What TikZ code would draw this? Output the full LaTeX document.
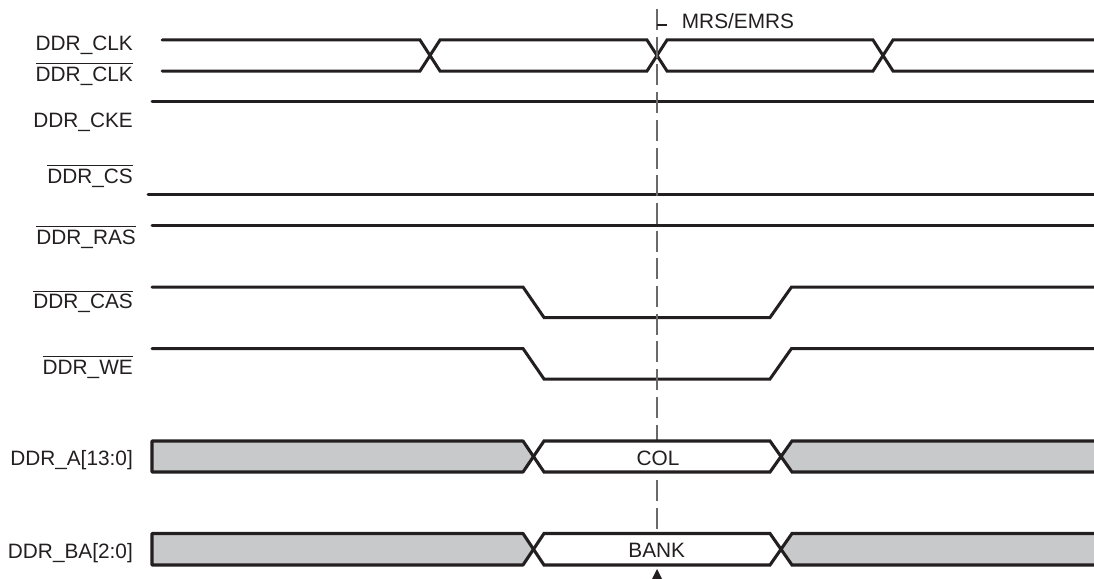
\documentclass[tikz,border=0pt]{standalone}
\usepackage{fontspec}
\setmainfont{Liberation Sans}
\definecolor{ink}{RGB}{35,31,32}
\definecolor{busgray}{RGB}{200,201,203}
\definecolor{markgray}{RGB}{105,105,105}
\newcommand\ovbar[1]{\leavevmode\vbox{\hrule height 0.9pt\kern 2.6pt\hbox{#1}}}
\tikzset{
  sig/.style={draw=ink, line width=3.0pt, line join=miter, line cap=round},
  busline/.style={draw=ink, line width=3.1pt, line join=miter},
  busfill/.style={fill=busgray},
  lbl/.style={inner sep=0pt, text=ink, font=\fontsize{20.8}{25}\selectfont, anchor=base east},
  marker/.style={draw=markgray, line width=1.8pt, dash pattern=on 21pt off 6.7pt},
  tickmark/.style={draw=ink, line width=1.2pt},
}
\begin{document}
\begin{tikzpicture}[x=1pt,y=-1pt]
\useasboundingbox (0,0) rectangle (1094,578);
\clip (0,0) rectangle (1094,578);

% labels
\node[lbl] (lclk)  at (133,50.5)  {DDR\_CLK};
\node[lbl] (lclkn) at (133,81.5)  {\ovbar{DDR\_CLK}};
\node[lbl] (lcke)  at (133,127.3) {DDR\_CKE};
\node[lbl] (lcs)   at (133,183.5) {\ovbar{DDR\_CS}};
\node[lbl] (lras)  at (136,244)   {\ovbar{DDR\_RAS}};
\node[lbl] (lcas)  at (133,308.7) {\ovbar{DDR\_CAS}};
\node[lbl] (lwe)   at (133,374)   {\ovbar{DDR\_WE}};
\node[lbl] (la)    at (133,465.5) {DDR\_A[13:0]};
\node[lbl] (lba)   at (133,558)   {DDR\_BA[2:0]};

% clock pair
\draw[sig] (162,40) -- (420,40) -- (440,71) -- (647,71) -- (667,40) -- (873,40) -- (893,71) -- (1100,71);
\draw[sig] (162,71) -- (420,71) -- (440,40) -- (647,40) -- (667,71) -- (873,71) -- (893,40) -- (1100,40);

% static lines
\draw[sig] (152,101) -- (1100,101);
\draw[sig] (148,194) -- (1100,194);
\draw[sig] (152,225) -- (1100,225);

% CAS / WE
\draw[sig] (152,287) -- (523,287) -- (544,317.5) -- (770,317.5) -- (791.5,287) -- (1100,287);
\draw[sig] (152,348.5) -- (523,348.5) -- (544,379) -- (770,379) -- (791.5,348.5) -- (1100,348.5);

% MRS/EMRS marker
\coordinate (mtop) at (657,9);
\coordinate (mbot) at (657,560);
\coordinate (tickL) at (657,25);
\coordinate (tickR) at (667,25);
\draw[marker] (mtop) -- (mbot);
\draw[tickmark] (tickL) -- (tickR);
\node[lbl, anchor=base west] (mrs) at (681.7,28.3) {MRS/EMRS};

% DDR_A bus
\path[busfill, busline, line join=round] (152,441) -- (523,441) -- (533.5,456.5) -- (523,472) -- (152,472) -- cycle;
\path[fill=white, busline] (533.5,456.5) -- (544,441) -- (770,441) -- (781,456.5) -- (770,472) -- (544,472) -- cycle;
\fill[busgray] (1100,441) -- (792,441) -- (781,456.5) -- (792,472) -- (1100,472) -- cycle;
\draw[busline] (1100,441) -- (792,441) -- (781,456.5) -- (792,472) -- (1100,472);
\node[lbl, anchor=base] (col) at (658,465.5) {COL};

% DDR_BA bus
\path[busfill, busline, line join=round] (152,533.5) -- (523,533.5) -- (533.5,549.25) -- (523,565) -- (152,565) -- cycle;
\path[fill=white, busline] (533.5,549.25) -- (544,533.5) -- (770,533.5) -- (781,549.25) -- (770,565) -- (544,565) -- cycle;
\fill[busgray] (1100,533.5) -- (792,533.5) -- (781,549.25) -- (792,565) -- (1100,565) -- cycle;
\draw[busline] (1100,533.5) -- (792,533.5) -- (781,549.25) -- (792,565) -- (1100,565);
\node[lbl, anchor=base] (bank) at (656.7,557.3) {BANK};

% arrow head at bottom
\fill[ink] (657,569) -- (662,579) -- (652,579) -- cycle;
\end{tikzpicture}
\end{document}
